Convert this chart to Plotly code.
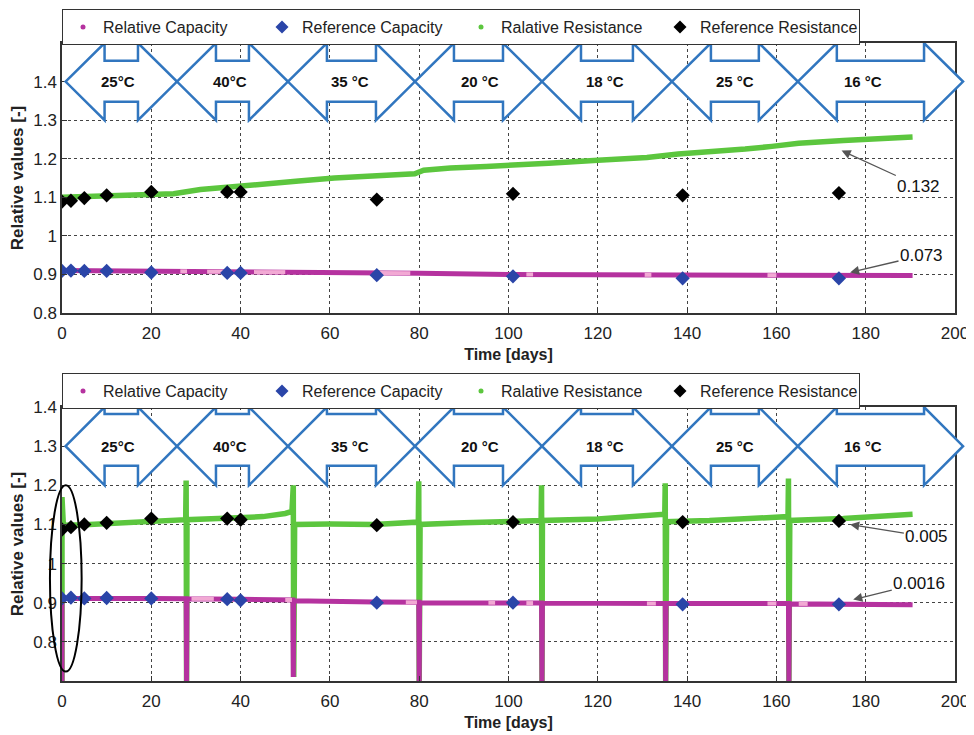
import plotly.graph_objects as go

# ---------------- data ----------------
ref_days = [0, 2, 5, 10, 20, 37, 40, 70.5, 101, 139, 174]
ref_cap_top = [0.909, 0.910, 0.909, 0.909, 0.905, 0.904, 0.904, 0.898, 0.895, 0.890, 0.890]
ref_res_top = [1.089, 1.091, 1.098, 1.105, 1.114, 1.114, 1.114, 1.094, 1.109, 1.105, 1.111]
ref_cap_bot = [0.911, 0.913, 0.911, 0.912, 0.911, 0.909, 0.906, 0.900, 0.900, 0.896, 0.896]
ref_res_bot = [1.087, 1.093, 1.100, 1.104, 1.115, 1.115, 1.112, 1.098, 1.106, 1.106, 1.109]

res_days_top = [0, 8, 20, 25, 31, 38, 46, 53, 61, 68, 76, 79, 81, 87, 95, 103, 109, 120,
                131, 138, 146, 153, 159, 165, 175, 183, 190.5]
res_vals_top = [1.100, 1.102, 1.107, 1.109, 1.120, 1.128, 1.135, 1.142, 1.150, 1.155, 1.159,
                1.161, 1.170, 1.176, 1.180, 1.183, 1.188, 1.196, 1.203, 1.212, 1.218, 1.225,
                1.232, 1.240, 1.247, 1.251, 1.256]

cap_days_top = [0, 20, 40, 60, 80, 100, 130, 160, 190.5]
cap_vals_top = [0.910, 0.909, 0.907, 0.905, 0.903, 0.900, 0.899, 0.898, 0.897]

# lighter-pink stretches of the capacity dots (top panel)
pink_days_top = [26.5, 28, None, 32.5, 38, None, 43, 50, None, 71, 78, None, 104, 105.5, None,
                 130.5, 132, None, 158, 160]
pink_vals_top = [0.908, 0.908, None, 0.907, 0.907, None, 0.906, 0.906, None, 0.904, 0.903, None,
                 0.900, 0.900, None, 0.899, 0.899, None, 0.898, 0.898]

res_days_bot = [0, 0, 0.3, 5, 10, 20, 27.7, 27.8, 27.9, 28.0, 35, 40, 45, 50, 51.5, 51.8, 51.9,
                52.1, 60, 70, 79.8, 79.9, 80.0, 80.2, 90, 100, 107.3, 107.4, 107.5, 107.6,
                120, 130, 135.0, 135.1, 135.2, 135.4, 145, 155, 162.6, 162.7, 162.8, 163.0,
                175, 190.5]
res_vals_bot = [0.70, 1.17, 1.098, 1.099, 1.102, 1.110, 1.112, 1.212, 0.70, 1.112, 1.115,
                1.116, 1.120, 1.128, 1.133, 1.200, 0.71, 1.100, 1.101, 1.100, 1.106, 1.210,
                0.70, 1.100, 1.104, 1.108, 1.110, 1.200, 0.70, 1.110, 1.114, 1.120, 1.126,
                1.205, 0.70, 1.107, 1.110, 1.116, 1.120, 1.217, 0.70, 1.110, 1.115, 1.126]

cap_days_bot = [0, 0, 20, 27.8, 27.9, 28.0, 40, 51.7, 51.8, 51.9, 70, 79.9, 80.0, 80.1, 100,
                107.4, 107.5, 107.6, 135.1, 135.2, 135.3, 162.7, 162.8, 162.9, 190.5]
cap_vals_bot = [0.70, 0.911, 0.911, 0.910, 0.70, 0.910, 0.909, 0.907, 0.71, 0.905, 0.902,
                0.901, 0.70, 0.900, 0.899, 0.899, 0.70, 0.899, 0.898, 0.70, 0.898, 0.898,
                0.70, 0.897, 0.895]

pink_days_bot = [29, 34, None, 50, 51.5, None, 77, 79.5, None, 95.5, 97, None, 104, 105.5, None,
                 131, 133, None, 158, 160, None, 165, 167]
pink_vals_bot = [0.910, 0.910, None, 0.907, 0.907, None, 0.901, 0.901, None, 0.900, 0.900, None,
                 0.899, 0.899, None, 0.898, 0.898, None, 0.898, 0.898, None, 0.897, 0.897]

x_ticks = [0, 20, 40, 60, 80, 100, 120, 140, 160, 180, 200]
y_ticks = [0.8, 0.9, 1.0, 1.1, 1.2, 1.3, 1.4]
y_ticktext = ["0.8", "0.9", "1", "1.1", "1.2", "1.3", "1.4"]

seg_bounds = [0.8, 25.75, 50.6, 79.05, 107.5, 136.6, 164.8, 201.8]
seg_labels = ["25°C", "40°C", "35 °C", "20 °C", "18 °C", "25 °C", "16 °C"]
label_days = [12.5, 37.6, 64.5, 93.6, 121.6, 150.7, 179.4]

legend_names = ["Relative Capacity", "Reference Capacity", "Ralative Resistance", "Reference Resistance"]

# ---------------- style ----------------
C_MAG = "#b5329f"
C_PINK = "#f2a9d4"
C_BLUE = "#2a45a8"
C_GREEN = "#5cc63e"
C_BLACK = "#000000"
C_ARROW = "#3176bf"
X_RANGE = [0, 200]

# the page body adds an 8px offset; margins compensate for it
M_L, M_R, M_T, M_B = 54, 27, 35, 62
W, H = 974, 735
PLOT_W = W - M_L - M_R
PLOT_H = H - M_T - M_B
OFF = 8

fig = go.Figure()

def add_panel(xa, ya, leg, res_d, res_v, cap_d, cap_v, pk_d, pk_v, rcap, rres):
    fig.add_trace(go.Scatter(x=[None], y=[None], mode="markers", name=legend_names[0],
                             marker=dict(color=C_MAG, size=5), xaxis=xa, yaxis=ya, legend=leg))
    fig.add_trace(go.Scatter(x=[None], y=[None], mode="markers", name=legend_names[1],
                             marker=dict(color=C_BLUE, size=10, symbol="diamond"), xaxis=xa, yaxis=ya, legend=leg))
    fig.add_trace(go.Scatter(x=[None], y=[None], mode="markers", name=legend_names[2],
                             marker=dict(color=C_GREEN, size=5), xaxis=xa, yaxis=ya, legend=leg))
    fig.add_trace(go.Scatter(x=[None], y=[None], mode="markers", name=legend_names[3],
                             marker=dict(color=C_BLACK, size=10, symbol="diamond"), xaxis=xa, yaxis=ya, legend=leg))
    fig.add_trace(go.Scatter(x=res_d, y=res_v, mode="lines", line=dict(color=C_GREEN, width=5.5),
                             showlegend=False, xaxis=xa, yaxis=ya, hoverinfo="skip"))
    fig.add_trace(go.Scatter(x=cap_d, y=cap_v, mode="lines", line=dict(color=C_MAG, width=5),
                             showlegend=False, xaxis=xa, yaxis=ya, hoverinfo="skip"))
    fig.add_trace(go.Scatter(x=pk_d, y=pk_v, mode="lines", line=dict(color=C_PINK, width=4),
                             showlegend=False, xaxis=xa, yaxis=ya, hoverinfo="skip", connectgaps=False))
    fig.add_trace(go.Scatter(x=ref_days, y=rcap, mode="markers",
                             marker=dict(color=C_BLUE, size=11, symbol="diamond"),
                             showlegend=False, xaxis=xa, yaxis=ya))
    fig.add_trace(go.Scatter(x=ref_days, y=rres, mode="markers",
                             marker=dict(color=C_BLACK, size=11, symbol="diamond"),
                             showlegend=False, xaxis=xa, yaxis=ya))

add_panel("x", "y", "legend", res_days_top, res_vals_top, cap_days_top, cap_vals_top,
          pink_days_top, pink_vals_top, ref_cap_top, ref_res_top)
add_panel("x2", "y2", "legend2", res_days_bot, res_vals_bot, cap_days_bot, cap_vals_bot,
          pink_days_bot, pink_vals_bot, ref_cap_bot, ref_res_bot)

# ---------------- temperature arrows ----------------
head_paper = 39 / PLOT_W

def to_paper(d):
    return (d - X_RANGE[0]) / (X_RANGE[1] - X_RANGE[0])

def arrows(yref, yc, Hh, s_up, s_dn):
    for i in range(len(seg_labels)):
        L = to_paper(seg_bounds[i])
        R = to_paper(seg_bounds[i + 1])
        pts = [(L, yc), (L + head_paper, yc + Hh), (L + head_paper, yc + s_up),
               (R - head_paper, yc + s_up), (R - head_paper, yc + Hh), (R, yc),
               (R - head_paper, yc - Hh), (R - head_paper, yc - s_dn),
               (L + head_paper, yc - s_dn), (L + head_paper, yc - Hh)]
        path = "M " + " L ".join(f"{px:.5f},{py:.5f}" for px, py in pts) + " Z"
        fig.add_shape(type="path", path=path, xref="paper", yref=yref,
                      line=dict(color=C_ARROW, width=2.5), fillcolor="white", layer="above")

arrows("y", 1.4, 0.1, 0.054, 0.052)
arrows("y2", 1.3, 0.1, 0.082, 0.05)

for yref, xref, yc in [("y", "x", 1.4), ("y2", "x2", 1.3)]:
    for d, t in zip(label_days, seg_labels):
        fig.add_annotation(x=d, y=yc, xref=xref, yref=yref, text=t, showarrow=False,
                           font=dict(size=15, color="#111", family="Liberation Sans, Arial", weight="bold"))

# ---------------- value annotations ----------------
ann = [
    ("x", "y", "0.132", 174.6, 1.221, 191.9, 1.129),
    ("x", "y", "0.073", 176.5, 0.905, 192.5, 0.949),
    ("x2", "y2", "0.005", 176.5, 1.100, 193.7, 1.068),
    ("x2", "y2", "0.0016", 177.2, 0.908, 192.0, 0.949),
]
for xr, yr, t, hx, hy, tx, ty in ann:
    fig.add_annotation(x=hx, y=hy, xref=xr, yref=yr, ax=tx, ay=ty, axref=xr, ayref=yr,
                       text=t, showarrow=True, arrowhead=2, arrowsize=1.4, arrowwidth=1.3,
                       arrowcolor="#555", font=dict(size=17, color="#111"), standoff=0)

fig.add_shape(type="circle", xref="paper", yref="y2", x0=to_paper(-2.7), x1=to_paper(4.4),
              y0=0.724, y1=1.2, line=dict(color="black", width=2), layer="above")

# ---------------- axes ----------------
top_dom = [(H + OFF - 313 - M_B) / PLOT_H, 1.0]
bot_dom = [0.0, (H + OFF - 407 - M_B) / PLOT_H]

ax_common = dict(showline=True, mirror=True, linecolor="#333", linewidth=1.5,
                 showgrid=True, gridcolor="#444", griddash="dot", gridwidth=1.2,
                 ticks="inside", ticklen=5, tickcolor="#333", zeroline=False,
                 automargin=False, tickfont=dict(size=17, color="#222"))

xt = dict(text="Time [days]", font=dict(size=16, weight="bold", color="#222"), standoff=7)
yt = dict(text="Relative values [-]", font=dict(size=17, weight="bold", color="#222"), standoff=8)

fig.update_layout(
    xaxis=dict(domain=[0, 1], anchor="y", range=X_RANGE, tickvals=x_ticks, ticklabelstandoff=4,
               title=xt, **ax_common),
    yaxis=dict(domain=top_dom, anchor="x", range=[0.8, 1.5], tickvals=y_ticks, ticktext=y_ticktext,
               title=yt, **ax_common),
    xaxis2=dict(domain=[0, 1], anchor="y2", range=X_RANGE, tickvals=x_ticks, ticklabelstandoff=4,
                title=xt, **ax_common),
    yaxis2=dict(domain=bot_dom, anchor="x2", range=[0.7, 1.4], tickvals=y_ticks, ticktext=y_ticktext,
                title=yt, **ax_common),
)

leg_common = dict(orientation="h", xanchor="left", x=0, yanchor="bottom", bgcolor="white",
                  bordercolor="#333", borderwidth=1, font=dict(size=16, color="#222"),
                  entrywidth=154, entrywidthmode="pixels", traceorder="normal")

leg_drop = 2 / PLOT_H
fig.update_layout(
    width=W, height=H,
    margin=dict(l=M_L, r=M_R, t=M_T, b=M_B, autoexpand=False),
    paper_bgcolor="white", plot_bgcolor="white",
    font=dict(family="Liberation Sans, Arial, sans-serif", color="#222"),
    showlegend=True,
    legend=dict(y=top_dom[1] - leg_drop, **leg_common),
    legend2=dict(y=bot_dom[1] - leg_drop, **leg_common),
)

fig.write_html("out.html")
